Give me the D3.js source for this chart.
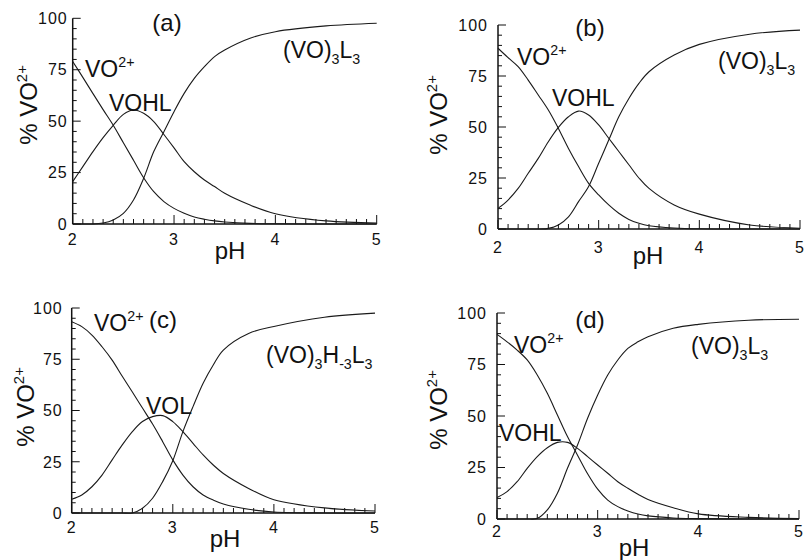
<!DOCTYPE html>
<html lang="en">
<head>
<meta charset="UTF-8">
<title>VO2+ speciation</title>
<script src="https://d3js.org/d3.v7.min.js"></script>
<style>
  body { margin: 0; background: #fff; }
  svg text { font-family: "Liberation Sans", Arial, Helvetica, sans-serif; fill: #111; }
  .tick-label { font-size: 16px; letter-spacing: 1px; }
</style>
</head>
<body>
<svg id="chart" width="806" height="560"></svg>
<script>
// pH grid where the curves were read
const pH = [2.0, 2.1, 2.2, 2.3, 2.4, 2.5, 2.6, 2.7, 2.8, 2.9, 3.0, 3.1, 3.2, 3.3, 3.4, 3.5, 3.75, 4.0, 4.5, 5.0];
const yTicks = [0, 25, 50, 75, 100];
const xTicks = [2, 3, 4, 5];

// panel (a)
const voA    = [79, 71.3, 63.4, 55.6, 48, 39.5, 31, 22.5, 15.7, 10.9, 7.6, 5.2, 3.4, 2.3, 1.5, 1.0, 0.3, 0.1, 0, 0];
const vohlA  = [20.6, 27.9, 35.2, 42, 48, 53.3, 55.4, 53.8, 49.8, 43.5, 37, 30.3, 25.4, 21.4, 18.2, 14.9, 9.2, 5, 1.5, 0.5];
const trimA  = [0, 0, 0, 0.5, 2, 5.2, 11.7, 22.2, 35.2, 44.9, 54.6, 63.5, 70.8, 76.5, 81.4, 84.6, 90.3, 93.5, 96.3, 97.6];
// panel (b)
const voB    = [88.6, 84, 79.6, 73, 65.7, 58.3, 49.3, 39.5, 30.6, 22.4, 16.7, 11.8, 7.7, 4.7, 2.8, 1.6, 0.5, 0.1, 0, 0];
const vohlB  = [10.1, 14.2, 19.9, 27.3, 34.6, 42.8, 49.8, 55, 57.8, 55.9, 51, 44.5, 38, 31.5, 25, 19.9, 11.8, 7.3, 2, 0.4];
const trimB  = [0, 0, 0, 0, 0, 0.3, 2, 6, 13.4, 20.8, 32.2, 43.6, 55, 64, 71.4, 77.1, 85.3, 90.5, 95.5, 97.5];
// panel (c)
const voC    = [93.3, 90.9, 86.8, 81.1, 74.6, 66.7, 59, 51.2, 43.4, 34.8, 25.9, 18.5, 12.8, 8.8, 6.3, 4.4, 1.8, 0.5, 0, 0];
const volC   = [6.7, 8.8, 12.8, 18.5, 25.9, 33.2, 39.7, 44.6, 47, 47.5, 44.6, 39.7, 34, 28.3, 23.4, 19.3, 12, 6.5, 2.5, 1];
const trimC  = [0, 0, 0, 0, 0, 0, 0, 2.3, 7.2, 15.3, 25.5, 39.7, 51.9, 63.3, 72.2, 79.5, 87.6, 91, 95.5, 97.5];
// panel (d)
const voD    = [89.6, 86, 82, 77.2, 69.9, 61, 50.5, 40, 31, 22, 14.5, 9.2, 6, 3.9, 2.4, 1.5, 0.5, 0.2, 0, 0];
const vohlD  = [10.4, 13.3, 18.1, 24.6, 30.3, 34.6, 37.2, 37.2, 34.3, 30.3, 26.2, 22.2, 18.1, 14.9, 12, 9.5, 5.5, 2.5, 0.8, 0.2];
const trimD  = [0, 0, 0, 0, 0.3, 4.4, 12.5, 24.6, 35.9, 48.9, 60.2, 69.9, 77.2, 82.8, 86, 88.5, 92.6, 94.5, 96.5, 97];

const VO = [{t: "VO"}, {t: "2+", sup: true}];
const L3 = [{t: "(VO)"}, {t: "3", sub: true}, {t: "L"}, {t: "3", sub: true}];
const panels = [
  { tag: "(a)", series: [voA, vohlA, trimA], x0: 72.7, x1: 376.7, yTop: 18.3, yBot: 224, tickGap: 5,
    xLab: 245, pHPos: [230, 259], titlePos: [37, 105], tagPos: [167, 31],
    labels: [ {x: 85, y: 77, parts: VO}, {x: 109, y: 111, parts: [{t: "VOHL"}]},
              {x: 283, y: 58, parts: L3} ] },
  { tag: "(b)", series: [voB, vohlB, trimB], x0: 498, x1: 800, yTop: 25, yBot: 229, tickGap: 10,
    xLab: 253, pHPos: [648, 264], titlePos: [447, 115], tagPos: [590, 36],
    labels: [ {x: 517, y: 65, parts: VO}, {x: 552, y: 106, parts: [{t: "VOHL"}]},
              {x: 718, y: 69, parts: L3} ] },
  { tag: "(c)", series: [voC, volC, trimC], x0: 71.7, x1: 375, yTop: 308, yBot: 513, tickGap: 9,
    xLab: 533, pHPos: [225, 547], titlePos: [34, 407], tagPos: [163, 328],
    labels: [ {x: 94, y: 331, parts: VO}, {x: 146, y: 414, parts: [{t: "VOL"}]},
              {x: 266, y: 363, parts: [{t: "(VO)"}, {t: "3", sub: true}, {t: "H"}, {t: "-3", sub: true}, {t: "L"}, {t: "3", sub: true}]} ] },
  { tag: "(d)", series: [voD, vohlD, trimD], x0: 497, x1: 799, yTop: 313, yBot: 519, tickGap: 10,
    xLab: 537, pHPos: [634, 556], titlePos: [447, 410], tagPos: [590, 328],
    labels: [ {x: 514, y: 353, parts: VO}, {x: 499, y: 441, parts: [{t: "VOHL"}]},
              {x: 691, y: 354, parts: L3} ] }
];

const svg = d3.select("#chart");

// text with super/subscripts
function richText(g, x, y, parts, size) {
  const t = g.append("text").attr("x", x).attr("y", y).style("font-size", size + "px");
  let shift = 0;
  parts.forEach(p => {
    const target = p.sup ? -0.42 * size : p.sub ? 0.28 * size : 0;
    t.append("tspan")
      .attr("dy", target - shift)
      .style("font-size", (p.sup || p.sub) ? (size * 0.62) + "px" : null)
      .text(p.t);
    shift = target;
  });
  return t;
}

panels.forEach(p => {
  const g = svg.append("g");
  const x = d3.scaleLinear().domain([2, 5]).range([p.x0, p.x1]);
  const y = d3.scaleLinear().domain([0, 100]).range([p.yBot, p.yTop]);

  // axes lines
  g.append("line").attr("x1", x(2)).attr("x2", x(2)).attr("y1", y(0)).attr("y2", y(100))
    .attr("stroke", "#111").attr("stroke-width", 1.5);
  g.append("line").attr("x1", x(2)).attr("x2", x(5)).attr("y1", y(0)).attr("y2", y(0))
    .attr("stroke", "#111").attr("stroke-width", 1.5);

  // y ticks (inward)
  d3.range(0, 101, 5).forEach(v => {
    const major = v % 25 === 0;
    g.append("line").attr("x1", x(2)).attr("x2", x(2) + (major ? 8 : 4))
      .attr("y1", y(v)).attr("y2", y(v)).attr("stroke", "#111").attr("stroke-width", 1);
  });
  // x ticks (inward)
  d3.range(20, 51, 1).forEach(k => {
    const v = k / 10;
    const major = k % 10 === 0;
    g.append("line").attr("x1", x(v)).attr("x2", x(v))
      .attr("y1", y(0)).attr("y2", y(0) - (major ? 9 : 5)).attr("stroke", "#111").attr("stroke-width", 1);
  });

  g.selectAll(".ylab").data(yTicks).join("text")
    .attr("class", "tick-label")
    .attr("x", x(2) - p.tickGap).attr("y", d => y(d)).attr("dy", "0.36em")
    .attr("text-anchor", "end").text(d => d);
  g.selectAll(".xlab").data(xTicks).join("text")
    .attr("class", "tick-label")
    .attr("x", d => x(d)).attr("y", p.xLab)
    .attr("text-anchor", "middle").text(d => d);

  // curves
  const line = d3.line().x((d, i) => x(pH[i])).y(d => y(d)).curve(d3.curveCatmullRom.alpha(0.5));
  p.series.forEach(s => {
    g.append("path").datum(s).attr("d", line)
      .attr("fill", "none").attr("stroke", "#1a1a1a").attr("stroke-width", 1.1);
  });

  // labels
  g.append("text").attr("x", p.tagPos[0]).attr("y", p.tagPos[1]).attr("text-anchor", "middle")
    .style("font-size", "24px").text(p.tag);
  p.labels.forEach(l => richText(g, l.x, l.y, l.parts, 23));
  g.append("text").attr("x", p.pHPos[0]).attr("y", p.pHPos[1]).attr("text-anchor", "middle")
    .style("font-size", "24px").text("pH");
  richText(g, 0, 0, [{t: "% VO"}, {t: "2+", sup: true}], 24)
    .attr("text-anchor", "middle")
    .attr("transform", `translate(${p.titlePos[0]},${p.titlePos[1]}) rotate(-90)`);
});
</script>
</body>
</html>
